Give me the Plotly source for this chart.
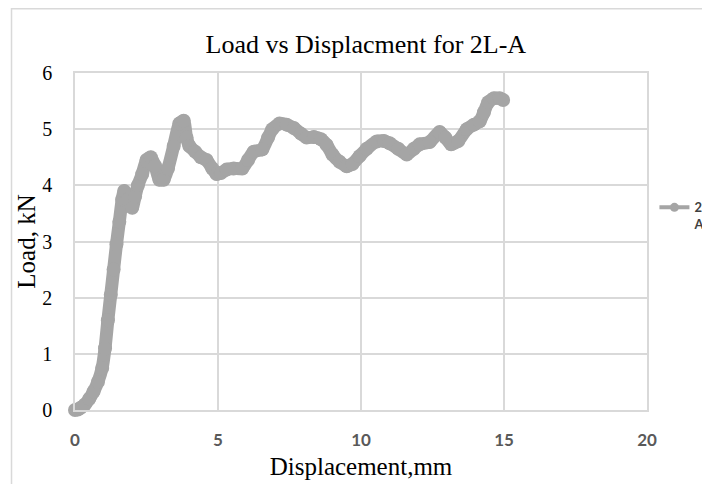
import plotly.graph_objects as go

# Data
displacement_mm = [0, 0.1, 0.2, 0.35, 0.5, 0.65, 0.8, 0.95, 1.05, 1.15, 1.25, 1.35, 1.45, 1.55, 1.65, 1.72,
                   1.85, 2.0, 2.1, 2.2, 2.35, 2.5, 2.65, 2.8, 2.95, 3.1, 3.25, 3.45, 3.65, 3.8, 3.9, 4.0,
                   4.2, 4.4, 4.6, 4.8, 4.95, 5.1, 5.3, 5.55, 5.85, 6.05, 6.25, 6.55, 6.75, 6.9, 7.15, 7.4,
                   7.65, 7.9, 8.1, 8.35, 8.6, 8.8, 9.0, 9.25, 9.5, 9.7, 9.95, 10.2, 10.55, 10.8, 11.0, 11.3,
                   11.6, 11.85, 12.05, 12.4, 12.75, 12.95, 13.15, 13.4, 13.7, 13.95, 14.15, 14.3, 14.45,
                   14.65, 14.85, 14.97]
load_kN = [0, 0.01, 0.04, 0.1, 0.2, 0.33, 0.5, 0.75, 1.1, 1.6, 2.05, 2.5, 2.95, 3.35, 3.75, 3.9,
           3.75, 3.6, 3.8, 4.0, 4.2, 4.45, 4.5, 4.35, 4.1, 4.1, 4.3, 4.7, 5.1, 5.15, 4.85, 4.7,
           4.6, 4.5, 4.45, 4.3, 4.2, 4.22, 4.28, 4.3, 4.3, 4.45, 4.6, 4.64, 4.85, 5.0, 5.1, 5.08,
           5.02, 4.92, 4.85, 4.86, 4.82, 4.72, 4.55, 4.42, 4.34, 4.38, 4.52, 4.65, 4.78, 4.79, 4.75, 4.65,
           4.55, 4.65, 4.73, 4.77, 4.95, 4.85, 4.73, 4.79, 5.0, 5.08, 5.14, 5.3, 5.48,
           5.55, 5.55, 5.52]
series_name = "2L-<br>A"
x_ticks = [0, 5, 10, 15, 20]
y_ticks = [0, 1, 2, 3, 4, 5, 6]

GRAY = "#a5a5a5"
GRID = "#d9d9d9"
SERIF = "Liberation Serif, Times New Roman, serif"

fig = go.Figure()
fig.add_trace(go.Scatter(
    x=displacement_mm, y=load_kN, mode="lines+markers",
    line=dict(color=GRAY, width=13, shape="spline", smoothing=0.6),
    marker=dict(color=GRAY, size=14, line=dict(width=0)),
    showlegend=False, hoverinfo="x+y", cliponaxis=False,
))
# legend entry for the series
fig.add_trace(go.Scatter(
    x=[None], y=[None], mode="lines+markers", name=series_name,
    line=dict(color=GRAY, width=4), marker=dict(color=GRAY, size=9),
))

fig.update_layout(
    width=710, height=484,
    margin=dict(l=67, r=71, t=65, b=82, autoexpand=False),
    paper_bgcolor="white", plot_bgcolor="white",
    title=dict(text="Load vs Displacment for 2L-A", x=0.504, xref="container", xanchor="center",
               y=1 - 36 / 484, yref="container", yanchor="middle", automargin=False,
               font=dict(family=SERIF, size=26, color="#000000")),
    legend=dict(x=1.013, xanchor="left", y=0.576, yanchor="middle", valign="top",
                font=dict(family="Lato", size=13, color="#404040", weight="bold"),
                bgcolor="rgba(0,0,0,0)", borderwidth=0),
    shapes=[dict(type="rect", xref="paper", yref="paper", x0=-0.111, x1=2, y0=-1, y1=1.1907,
                 line=dict(color=GRID, width=1.5), fillcolor="rgba(0,0,0,0)", layer="below")],
)
fig.update_xaxes(
    range=[0, 20], tickvals=x_ticks, showgrid=True, gridcolor=GRID, gridwidth=1.5,
    zeroline=False, showline=True, linecolor=GRID, linewidth=1.5, mirror=True,
    ticks="", ticklabelstandoff=14, automargin=False,
    tickfont=dict(family="Lato", size=17, color="#595959", weight="bold"),
    title=dict(text="Displacement,mm", standoff=8,
               font=dict(family=SERIF, size=25, color="#000000")),
)
fig.update_yaxes(
    range=[0, 6], tickvals=y_ticks, showgrid=True, gridcolor=GRID, gridwidth=1.5,
    zeroline=False, showline=True, linecolor=GRID, linewidth=1.5, mirror=True,
    ticks="", ticklabelstandoff=17, automargin=False,
    tickfont=dict(family=SERIF, size=20, color="#000000"),
    title=dict(text="Load, kN", standoff=0,
               font=dict(family=SERIF, size=25, color="#000000")),
)

fig.write_html("out.html")
